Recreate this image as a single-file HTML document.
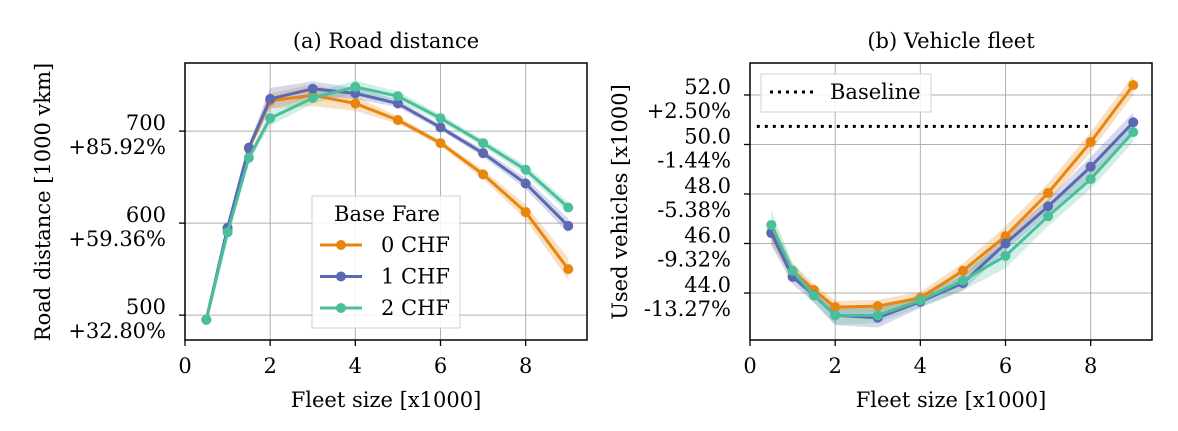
<!DOCTYPE html>
<html><head><meta charset="utf-8"><style>
html,body{margin:0;padding:0;background:#fff;}
svg{display:block;font-family:"DejaVu Serif","Liberation Serif",serif;}
</style></head><body>
<svg id="fig" width="1178" height="431" viewBox="0 0 1178 431" xmlns="http://www.w3.org/2000/svg"></svg>
<script>
const xs = [0.5,1,1.5,2,3,4,5,6,7,8,9];
const seriesNames = ["0 CHF","1 CHF","2 CHF"];
const colors = ["#e8850c","#5b68b3","#4bbf9c"];
const roadFare0 = [495,592,681,733,739,730,712,687,653,612,550];
const roadFare1 = [495,595,682,735,746,741,730,704,676,643,597];
const roadFare2 = [495,590,671,714,736,748,738,714,687,658,617];
const roadBand0 = [2,3,4,8,12,8,4,3,5,8,12];
const roadBand1 = [2,3,4,12,8,6,4,3,4,6,8];
const roadBand2 = [2,3,4,8,6,7,5,4,4,5,6];
const fleetFare0 = [46.46,44.9,44.12,43.43,43.47,43.8,44.9,46.3,48.04,50.1,52.4];
const fleetFare1 = [46.42,44.65,43.92,43.1,43.0,43.65,44.4,46.0,47.5,49.1,50.9];
const fleetFare2 = [46.75,44.9,43.9,43.1,43.1,43.7,44.5,45.5,47.1,48.6,50.5];
const fleetBand0 = [0.5,0.3,0.25,0.25,0.25,0.25,0.3,0.4,0.4,0.4,0.4];
const fleetBand1 = [0.5,0.3,0.3,0.4,0.4,0.25,0.3,0.3,0.3,0.4,0.4];
const fleetBand2 = [0.6,0.3,0.3,0.4,0.3,0.25,0.4,0.5,0.4,0.4,0.4];
const baselineValue = 50.73;
const baselineX = [0.16,8];
const xTicks = [0,2,4,6,8];
const roadTicks = [500,600,700];
const roadPct = ["+32.80%","+59.36%","+85.92%"];
const fleetTicks = [44,46,48,50,52];
const fleetPct = ["-13.27%","-9.32%","-5.38%","-1.44%","+2.50%"];

const NS="http://www.w3.org/2000/svg";
const svg=document.getElementById('fig');
const FS=21;
function mk(tag,attrs,parent,text){const e=document.createElementNS(NS,tag);for(const k in attrs)e.setAttribute(k,attrs[k]);if(text!==undefined)e.textContent=text;(parent||svg).appendChild(e);return e;}

function panel(opt){
  const L=opt.L,R=opt.R,T=63,B=340;
  const sx=v=>L+(v-0)/(opt.xmax)*(R-L);
  const sy=v=>B-(v-opt.ymin)/(opt.ymax-opt.ymin)*(B-T);
  const g=mk('g',{});
  
  
  xTicks.forEach(t=>{const l=mk('line',{x1:sx(t),x2:sx(t),y1:T,y2:B,stroke:'#b0b0b0','stroke-width':1},g);
    });
  opt.yt.forEach(t=>{const l=mk('line',{x1:L,x2:R,y1:sy(t),y2:sy(t),stroke:'#b0b0b0','stroke-width':1},g);
    });
  if(opt.baseline){const b=mk('line',{x1:sx(baselineX[0]),x2:sx(baselineX[1]),y1:sy(baselineValue),y2:sy(baselineValue),stroke:'#000','stroke-width':3,'stroke-dasharray':'3,5'},g);
    }
  opt.data.forEach((d,i)=>{
    const bd=opt.bands[i];
    let p=xs.map((x,j)=>sx(x)+','+sy(d[j]+bd[j])).join(' ')+' '+xs.slice().reverse().map((x,jj)=>{const j=xs.length-1-jj;return sx(x)+','+sy(d[j]-bd[j]);}).join(' ');
    const pg=mk('polygon',{points:p,fill:colors[i],'fill-opacity':0.25},g);
    
  });
  opt.data.forEach((d,i)=>{
    const pl=mk('polyline',{points:xs.map((x,j)=>sx(x)+','+sy(d[j])).join(' '),fill:'none',stroke:colors[i],'stroke-width':3},g);
    
    xs.forEach((x,j)=>{const c=mk('circle',{cx:sx(x),cy:sy(d[j]),r:5,fill:colors[i]},g);
      });
  });
  const fr=mk('rect',{x:L,y:T,width:R-L,height:B-T,fill:'none',stroke:'#000','stroke-width':1.5},g);
  
  xTicks.forEach(t=>{mk('line',{x1:sx(t),x2:sx(t),y1:B,y2:B+6,stroke:'#000','stroke-width':1.3},g);
    const tx=mk('text',{x:sx(t),y:B+33,'text-anchor':'middle','font-size':FS},g,String(t));
    });
  opt.yt.forEach((t,i)=>{const y=sy(t);mk('line',{x1:L-6,x2:L,y1:y,y2:y,stroke:'#000','stroke-width':1.3},g);
    const a=mk('text',{x:L-19,y:y-1,'text-anchor':'end','font-size':FS},g,opt.fmt(t));
    
    const b=mk('text',{x:L-19,y:y+23,'text-anchor':'end','font-size':FS},g,opt.pct[i]);
    });
  const ti=mk('text',{x:(L+R)/2,y:48,'text-anchor':'middle','font-size':FS},g,opt.title);
  
  const xl=mk('text',{x:(L+R)/2,y:407,'text-anchor':'middle','font-size':FS},g,'Fleet size [x1000]');
  
  const yl=mk('text',{x:0,y:0,'text-anchor':'middle','font-size':FS,transform:`translate(${opt.ylx},202) rotate(-90)`},g,opt.ylabel);
  
}
panel({name:'road-distance-panel',L:185,R:587,xmax:9.44,ymin:473,ymax:774,yt:roadTicks,pct:roadPct,fmt:t=>String(t),
  data:[roadFare0,roadFare1,roadFare2],bands:[roadBand0,roadBand1,roadBand2],title:'(a) Road distance',ylabel:'Road distance [1000 vkm]',ylx:50});
panel({name:'vehicle-fleet-panel',L:750,R:1152,xmax:9.44,ymin:44-47/24.75,ymax:44+230/24.75,yt:fleetTicks,pct:fleetPct,fmt:t=>t.toFixed(1),
  data:[fleetFare0,fleetFare1,fleetFare2],bands:[fleetBand0,fleetBand1,fleetBand2],title:'(b) Vehicle fleet',ylabel:'Used vehicles [x1000]',ylx:627,baseline:true});

const lg=mk('g',{});


mk('rect',{x:312,y:196,width:148,height:132,fill:'#fff','fill-opacity':0.85,stroke:'#d0d0d0'},lg);
mk('text',{x:387,y:221,'text-anchor':'middle','font-size':FS},lg,'Base Fare');
seriesNames.forEach((n,i)=>{const y=245+i*31.5;
  const e=mk('g',{},lg);
  
  
  mk('line',{x1:320,x2:362,y1:y,y2:y,stroke:colors[i],'stroke-width':3},e);
  mk('circle',{cx:341,cy:y,r:5,fill:colors[i]},e);
  mk('text',{x:381,y:y+7,'font-size':FS},e,n);});
const lg2=mk('g',{});


mk('rect',{x:761,y:74,width:170,height:38,fill:'#fff','fill-opacity':0.85,stroke:'#d0d0d0'},lg2);
mk('line',{x1:770,x2:815,y1:92,y2:92,stroke:'#000','stroke-width':3,'stroke-dasharray':'3,5'},lg2);
mk('text',{x:830,y:99,'font-size':FS},lg2,'Baseline');
</script>
</body></html>
